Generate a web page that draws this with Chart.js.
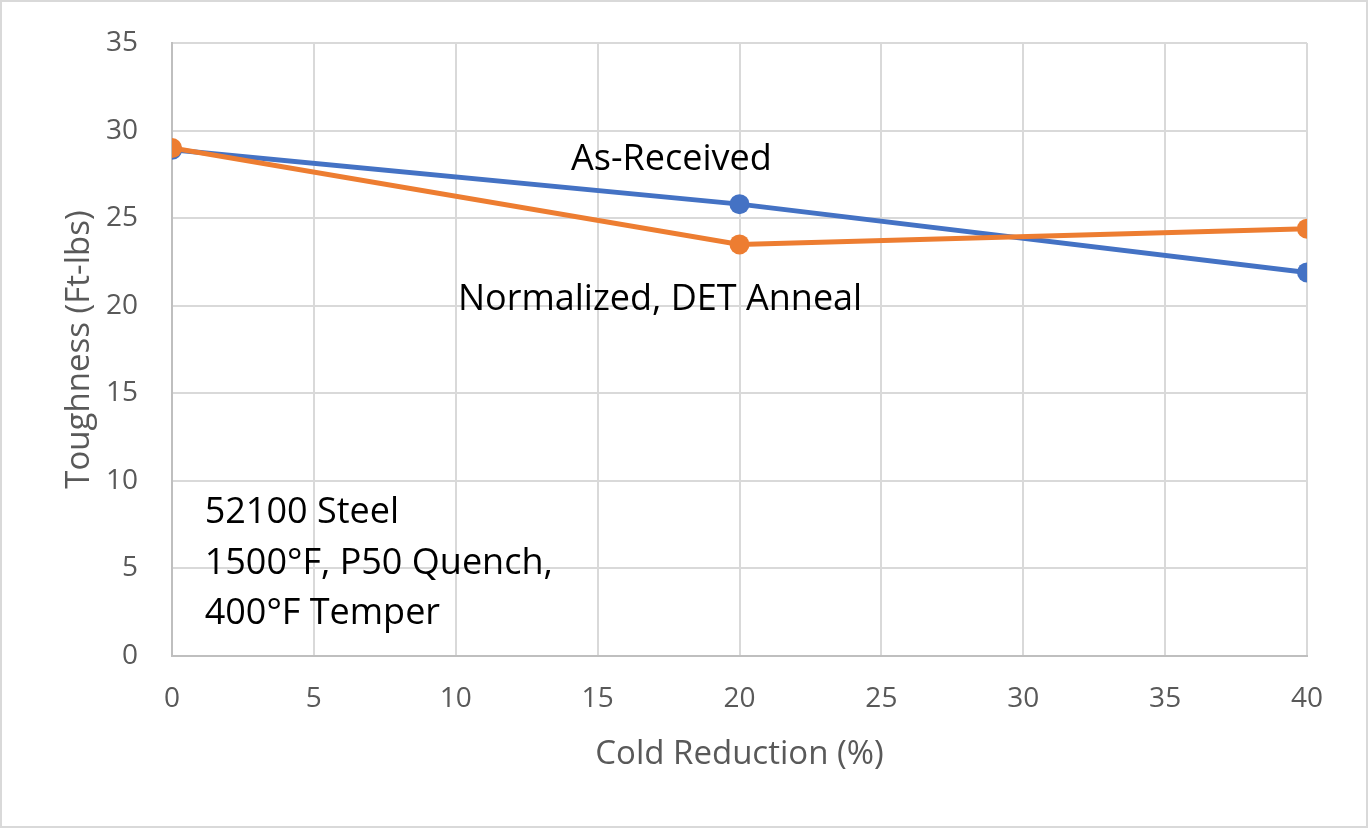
<!DOCTYPE html>
<html>
<head>
<meta charset="utf-8">
<script src="https://cdn.jsdelivr.net/npm/chart.js@4.4.0/dist/chart.umd.min.js"></script>
<style>
  html, body { margin: 0; padding: 0; background: #fff; }
  #wrap { width: 1368px; height: 828px; position: relative; }
</style>
</head>
<body>
<div id="wrap"><canvas id="chart1"></canvas></div>
<script>
// cold reduction (%) and toughness (ft-lbs)
var reduction = [0, 20, 40];
var asReceived = [28.9, 25.8, 21.9];
var normalized = [29.0, 23.5, 24.4];
var noteLines = ["52100 Steel", "1500°F, P50 Quench,", "400°F Temper"];

var FONT = "'Open Sans', 'Noto Sans', sans-serif";

function pts(xs, ys) {
  return xs.map(function (x, i) { return { x: x, y: ys[i] }; });
}

// text that Excel put inside the plot, plus axis titles and the frame
const extras = {
  id: "extras",
  afterDraw(chart) {
    const ctx = chart.ctx;
    const xs = chart.scales.x, ys = chart.scales.y;
    ctx.save();
    ctx.fillStyle = "#000";
    ctx.font = "36px " + FONT;
    ctx.textBaseline = "middle";
    ctx.textAlign = "center";
    ctx.fillText("As-Received", xs.getPixelForValue(17.6), ys.getPixelForValue(28.33));
    ctx.fillText("Normalized, DET Anneal", xs.getPixelForValue(17.2), ys.getPixelForValue(20.33));
    ctx.textAlign = "left";
    noteLines.forEach(function (t, i) {
      ctx.fillText(t, xs.getPixelForValue(1.15), ys.getPixelForValue(8.17 - i * 2.88));
    });

    ctx.fillStyle = "#595959";
    ctx.font = "33px " + FONT;
    ctx.textAlign = "center";
    ctx.fillText("Cold Reduction (%)", (xs.left + xs.right) / 2, 755);
    ctx.translate(80, (ys.top + ys.bottom) / 2);
    ctx.rotate(-Math.PI / 2);
    ctx.fillText("Toughness (Ft-lbs)", 0, 0);
    ctx.restore();

    ctx.save();
    ctx.strokeStyle = "#d9d9d9";
    ctx.lineWidth = 2;
    ctx.strokeRect(1, 1, chart.width - 2, chart.height - 2);
    ctx.restore();
  }
};

const chart = new Chart(document.getElementById("chart1"), {
  type: "line",
  data: {
    datasets: [{
      label: "Normalized, DET Anneal",
      data: pts(reduction, normalized),
      borderColor: "#ED7D31",
      backgroundColor: "#ED7D31",
      borderWidth: 5,
      pointRadius: 10,
      pointBorderWidth: 0,
      tension: 0
    }, {
      label: "As-Received",
      data: pts(reduction, asReceived),
      borderColor: "#4472C4",
      backgroundColor: "#4472C4",
      borderWidth: 5,
      pointRadius: 10,
      pointBorderWidth: 0,
      tension: 0
    }]
  },
  options: {
    responsive: true,
    maintainAspectRatio: false,
    animation: false,
    layout: { padding: { top: 43, right: 61, left: 0, bottom: 0 } },
    plugins: { legend: { display: false }, tooltip: { enabled: false } },
    scales: {
      x: {
        type: "linear",
        min: 0, max: 40,
        ticks: { stepSize: 5, color: "#595959", font: { size: 28, family: FONT }, padding: 26 },
        grid: { color: "#d9d9d9", lineWidth: 2, drawTicks: false },
        border: { color: "#bfbfbf", width: 2 },
        afterFit(s) { s.height = 828 - 656; s.paddingLeft = 0; s.paddingRight = 0; }
      },
      y: {
        min: 0, max: 35,
        ticks: { stepSize: 5, color: "#595959", font: { size: 28, family: FONT }, padding: 34 },
        grid: { color: "#d9d9d9", lineWidth: 2, drawTicks: false },
        border: { color: "#bfbfbf", width: 2 },
        afterFit(s) { s.width = 172; s.paddingTop = 0; s.paddingBottom = 0; }
      }
    }
  },
  plugins: [extras]
});
</script>
</body>
</html>
